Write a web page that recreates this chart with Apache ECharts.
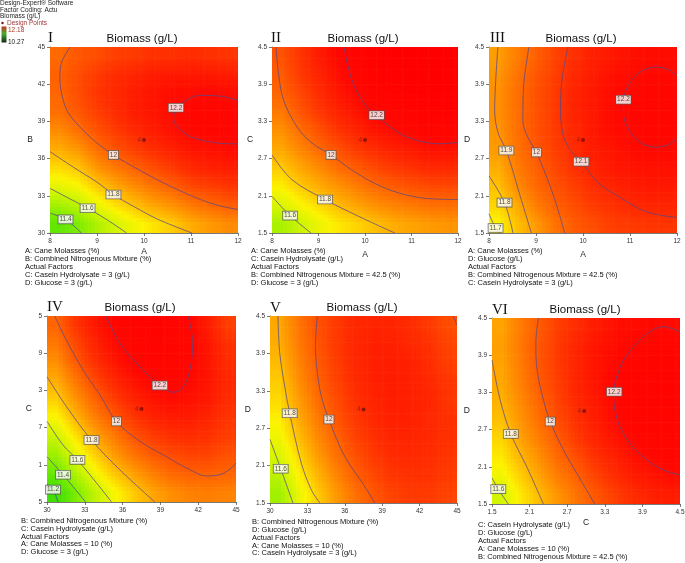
<!DOCTYPE html>
<html><head><meta charset="utf-8">
<script src="https://cdn.jsdelivr.net/npm/echarts@6/dist/echarts.min.js"></script>
<style>html,body{margin:0;padding:0;background:#fff;}#c{width:685px;height:563px;}</style>
</head><body><div id="c"></div>
<script>
// ---------- data ----------
const centersA  = [8.2, 8.6, 9.0, 9.4, 9.8, 10.2, 10.6, 11.0, 11.4, 11.8];
const centersB  = [30.75, 32.25, 33.75, 35.25, 36.75, 38.25, 39.75, 41.25, 42.75, 44.25];
const centersCD = [1.65, 1.95, 2.25, 2.55, 2.85, 3.15, 3.45, 3.75, 4.05, 4.35];

// biomass estimates at cell centres; rows listed from the top of each plot down
const biomassI = [
 [11.98,12.02,12.04,12.07,12.08,12.10,12.10,12.11,12.10,12.09],
 [12.00,12.04,12.08,12.11,12.13,12.15,12.16,12.16,12.16,12.15],
 [11.99,12.04,12.09,12.12,12.15,12.17,12.19,12.19,12.20,12.19],
 [11.97,12.02,12.07,12.11,12.15,12.17,12.19,12.21,12.21,12.21],
 [11.91,11.97,12.03,12.08,12.12,12.15,12.18,12.20,12.21,12.21],
 [11.84,11.89,11.97,12.03,12.07,12.11,12.14,12.17,12.18,12.19],
 [11.75,11.79,11.89,11.95,12.00,12.04,12.08,12.12,12.14,12.15],
 [11.65,11.69,11.78,11.85,11.91,11.96,12.00,12.05,12.07,12.09],
 [11.51,11.56,11.66,11.74,11.80,11.86,11.90,11.95,11.98,12.01],
 [11.36,11.43,11.53,11.61,11.68,11.73,11.78,11.84,11.88,11.91]];
const biomassII = [
 [12.03,12.09,12.15,12.20,12.24,12.27,12.29,12.31,12.32,12.32],
 [12.01,12.08,12.13,12.18,12.23,12.26,12.28,12.30,12.31,12.31],
 [11.99,12.05,12.11,12.16,12.20,12.24,12.26,12.28,12.29,12.29],
 [11.95,12.02,12.08,12.13,12.17,12.21,12.23,12.25,12.26,12.27],
 [11.90,11.97,12.03,12.09,12.13,12.17,12.19,12.21,12.23,12.23],
 [11.85,11.92,11.98,12.03,12.08,12.11,12.14,12.16,12.18,12.18],
 [11.78,11.85,11.91,11.97,12.01,12.05,12.08,12.10,12.12,12.12],
 [11.71,11.78,11.84,11.89,11.94,11.98,12.01,12.03,12.05,12.05],
 [11.62,11.69,11.75,11.81,11.86,11.90,11.93,11.95,11.97,11.97],
 [11.52,11.59,11.66,11.72,11.76,11.80,11.84,11.86,11.88,11.89]];
const biomassIII = [
 [11.87,11.94,12.00,12.06,12.10,12.14,12.16,12.18,12.19,12.19],
 [11.89,11.96,12.02,12.07,12.12,12.15,12.18,12.19,12.20,12.20],
 [11.90,11.97,12.03,12.08,12.13,12.16,12.19,12.20,12.21,12.21],
 [11.90,11.97,12.03,12.08,12.13,12.16,12.19,12.21,12.21,12.21],
 [11.89,11.97,12.03,12.08,12.12,12.16,12.19,12.20,12.21,12.21],
 [11.88,11.96,12.02,12.07,12.11,12.15,12.17,12.19,12.20,12.20],
 [11.84,11.94,12.00,12.05,12.10,12.13,12.16,12.17,12.18,12.18],
 [11.80,11.91,11.98,12.03,12.07,12.11,12.13,12.15,12.16,12.16],
 [11.76,11.85,11.94,12.00,12.04,12.08,12.10,12.12,12.13,12.13],
 [11.70,11.80,11.88,11.96,12.01,12.04,12.07,12.08,12.09,12.09]];
const biomassIV = [
 [11.99,12.09,12.16,12.21,12.24,12.25,12.24,12.21,12.15,12.07],
 [11.95,12.05,12.13,12.19,12.23,12.25,12.24,12.21,12.17,12.10],
 [11.90,12.01,12.10,12.16,12.21,12.23,12.23,12.21,12.17,12.11],
 [11.84,11.95,12.05,12.12,12.17,12.21,12.22,12.20,12.17,12.12],
 [11.77,11.89,11.99,12.07,12.13,12.17,12.19,12.18,12.16,12.11],
 [11.69,11.82,11.93,12.01,12.08,12.13,12.15,12.15,12.13,12.09],
 [11.59,11.73,11.85,11.94,12.02,12.07,12.10,12.11,12.10,12.07],
 [11.49,11.64,11.76,11.87,11.95,12.01,12.04,12.06,12.06,12.03],
 [11.38,11.53,11.67,11.78,11.86,11.93,11.98,12.00,12.00,11.99],
 [11.26,11.42,11.56,11.68,11.77,11.85,11.90,11.93,11.94,11.93]];
const biomassV = [
 [11.85,11.95,12.03,12.08,12.12,12.13,12.13,12.11,12.08,12.04],
 [11.84,11.94,12.02,12.08,12.12,12.14,12.14,12.12,12.10,12.06],
 [11.81,11.92,12.01,12.07,12.12,12.14,12.15,12.14,12.11,12.07],
 [11.78,11.90,11.99,12.06,12.11,12.14,12.15,12.14,12.12,12.09],
 [11.75,11.87,11.97,12.04,12.10,12.13,12.15,12.14,12.13,12.09],
 [11.71,11.84,11.94,12.02,12.08,12.12,12.14,12.14,12.12,12.10],
 [11.67,11.80,11.91,11.99,12.06,12.10,12.13,12.13,12.12,12.10],
 [11.62,11.75,11.87,11.96,12.03,12.08,12.11,12.12,12.11,12.09],
 [11.56,11.70,11.82,11.92,12.00,12.05,12.09,12.10,12.10,12.08],
 [11.50,11.65,11.77,11.88,11.96,12.02,12.06,12.08,12.08,12.06]];
const biomassVI = [
 [11.86,11.94,12.01,12.07,12.11,12.15,12.18,12.19,12.20,12.19],
 [11.87,11.95,12.02,12.08,12.13,12.17,12.19,12.21,12.22,12.22],
 [11.86,11.94,12.02,12.08,12.13,12.17,12.20,12.22,12.24,12.24],
 [11.85,11.93,12.01,12.07,12.13,12.17,12.21,12.23,12.24,12.25],
 [11.83,11.91,11.99,12.06,12.12,12.16,12.20,12.23,12.24,12.25],
 [11.80,11.89,11.97,12.04,12.10,12.15,12.19,12.22,12.24,12.24],
 [11.76,11.86,11.94,12.01,12.08,12.13,12.17,12.20,12.22,12.23],
 [11.72,11.82,11.90,11.98,12.04,12.10,12.14,12.18,12.20,12.21],
 [11.67,11.77,11.86,11.94,12.00,12.06,12.11,12.15,12.17,12.19],
 [11.61,11.72,11.81,11.89,11.96,12.02,12.07,12.11,12.14,12.15]];

// contour lines
const contoursI = [
 {level:'12.2', pts:[[12,40.7],[11.6,41.05],[11.2,41.1],[10.85,40.6],[10.66,39.8],[10.63,39.2],[10.75,38.4],[11.0,37.75],[11.4,37.35],[11.8,37.2],[12,37.2]]},
 {level:'12', pts:[[8.43,45],[8.25,43.8],[8.21,42.6],[8.25,41.2],[8.36,39.9],[8.55,38.9],[8.78,38.0],[9.05,37.1],[9.35,36.3],[9.7,35.5],[10.13,34.6],[10.6,33.7],[11.2,32.7],[11.6,32.2],[12,31.9]]},
 {level:'11.8', pts:[[8,36.56],[8.5,35.3],[9,34.1],[9.35,33.1],[9.8,32.1],[10.3,31.1],[11.02,30]]},
 {level:'11.6', pts:[[8,33.6],[8.4,32.8],[8.8,32.0],[9.2,31.1],[9.63,30]]},
 {level:'11.4', pts:[[8,31.6],[8.33,31.1],[8.67,30]]}];
const labelsI = [[10.68,40.1,'12.2'],[9.35,36.3,'12'],[9.35,33.1,'11.8'],[8.8,32.0,'11.6'],[8.33,31.1,'11.4']];

const contoursII = [
 {level:'12.2', pts:[[9.55,4.5],[9.63,4.2],[9.78,3.85],[10.05,3.52],[10.3,3.36],[10.6,3.18],[10.9,3.05],[11.25,2.97],[11.6,2.94],[12,2.96]]},
 {level:'12', pts:[[8.086,4.5],[8.14,4.07],[8.25,3.64],[8.54,3.21],[8.86,2.95],[9.27,2.76],[9.71,2.52],[10.21,2.30],[10.71,2.15],[11.29,2.06],[12,2.04]]},
 {level:'11.8', pts:[[8,2.76],[8.43,2.36],[9.14,2.04],[9.86,1.77],[10.64,1.5]]},
 {level:'11.6', pts:[[8,2.09],[8.39,1.78],[8.84,1.5]]}];
const labelsII = [[10.25,3.4,'12.2'],[9.27,2.76,'12'],[9.14,2.04,'11.8'],[8.39,1.78,'11.6']];

const contoursIII = [
 {level:'12.2', pts:[[12,4.04],[11.8,4.14],[11.56,4.175],[11.32,4.14],[11.1,4.02],[10.945,3.85],[10.86,3.64],[10.86,3.42],[10.945,3.21],[11.1,3.04],[11.32,2.92],[11.56,2.885],[11.8,2.92],[12,3.02]]},
 {level:'12.1', pts:[[9.68,4.5],[9.56,4.01],[9.52,3.53],[9.57,3.10],[9.72,2.85],[9.96,2.65],[10.35,2.29],[10.78,2.08],[11.2,1.89],[11.56,1.80],[12,1.75]]},
 {level:'12', pts:[[8.85,4.5],[8.74,3.9],[8.72,3.31],[8.83,3.04],[9.01,2.8],[9.36,2.13],[9.61,1.5]]},
 {level:'11.9', pts:[[8.19,4.5],[8.12,3.47],[8.2,3.1],[8.37,2.83],[8.65,2.13],[8.9,1.5]]},
 {level:'11.8', pts:[[8,2.42],[8.33,1.99],[8.51,1.5]]},
 {level:'11.7', pts:[[8,1.81],[8.14,1.58],[8.23,1.5]]}];
const labelsIII = [[10.86,3.65,'12.2'],[9.96,2.65,'12.1'],[9.01,2.8,'12'],[8.37,2.83,'11.9'],[8.33,1.99,'11.8'],[8.14,1.58,'11.7']];

const contoursIV = [
 {level:'12.2', pts:[[34.66,4.5],[35.78,4.06],[37.37,3.68],[38.96,3.38],[40.02,3.27],[40.76,3.34],[41.34,3.63],[41.56,4.06],[41.21,4.5]]},
 {level:'12', pts:[[30.61,4.5],[31.54,4.11],[32.86,3.63],[34.19,3.23],[35.51,2.80],[37.37,2.48],[39.49,2.23],[41.34,2.02],[42.67,1.92],[43.99,1.96],[45,2.12]]},
 {level:'11.8', pts:[[30,3.52],[31.54,3.04],[33.53,2.50],[35.78,2.02],[38.56,1.5]]},
 {level:'11.6', pts:[[30,2.80],[31.27,2.42],[32.41,2.18],[33.92,1.81],[35.12,1.5]]},
 {level:'11.4', pts:[[30,2.23],[31.27,1.94],[33.07,1.5]]},
 {level:'11.2', pts:[[30,1.79],[30.48,1.70],[30.87,1.5]]}];
const labelsIV = [[38.96,3.38,'12.2'],[35.51,2.8,'12'],[33.53,2.5,'11.8'],[32.41,2.18,'11.6'],[31.27,1.94,'11.4'],[30.48,1.70,'11.2']];

const contoursV = [
 {level:'12', pts:[[33.8,4.5],[33.64,4.01],[33.8,3.59],[34.12,3.21],[34.73,2.84],[35.99,2.25],[37.59,1.77],[38.4,1.5]]},
 {level:'11.8', pts:[[30.64,4.5],[30.78,3.91],[31.18,3.37],[31.58,2.94],[32.51,2.14],[33.32,1.71],[34.0,1.5]]},
 {level:'11.6', pts:[[30,2.52],[30.86,2.05],[31.84,1.5]]},
 {level:'12', pts:[[44.68,4.5],[45,4.36]]}];
const labelsV = [[31.58,2.94,'11.8'],[34.73,2.84,'12'],[30.86,2.05,'11.6']];

const contoursVI = [
 {level:'12.2', pts:[[4.5,4.28],[4.23,4.36],[4.02,4.28],[3.81,4.09],[3.60,3.82],[3.49,3.55],[3.44,3.28],[3.46,3.02],[3.54,2.75],[3.70,2.48],[3.97,2.21],[4.23,2.05],[4.5,1.97]]},
 {level:'12', pts:[[2.24,4.5],[2.20,4.09],[2.22,3.66],[2.32,3.18],[2.43,2.83],[2.64,2.37],[2.85,2.0],[3.14,1.5]]},
 {level:'11.8', pts:[[1.5,3.82],[1.63,3.18],[1.80,2.63],[2.05,2.11],[2.32,1.5]]},
 {level:'11.6', pts:[[1.5,1.92],[1.6,1.74],[1.76,1.5]]}];
const labelsVI = [[3.45,3.31,'12.2'],[2.43,2.83,'12'],[1.80,2.63,'11.8'],[1.6,1.74,'11.6']];

const designPointI = [10, 37.5], designPointII = [10, 3.0], designPointIII = [10, 3.0];
const designPointIV = [37.5, 3.0], designPointV = [37.5, 3.0], designPointVI = [2.97, 3.0];

const ticksA  = [8, 9, 10, 11, 12];
const ticksB  = [30, 33, 36, 39, 42, 45];
const ticksCD = [1.5, 2.1, 2.7, 3.3, 3.9, 4.5];
const tickLabelsA  = ['8','9','10','11','12'];
const tickLabelsB  = ['30','33','36','39','42','45'];
const tickLabelsCD = ['1.5','2.1','2.7','3.3','3.9','4.5'];
const tickLabelsIVy = ['5','1','7','3','9','5'];

const notesI   = ['A: Cane Molasses (%)','B: Combined Nitrogenous Mixture (%)','Actual Factors','C: Casein Hydrolysate = 3 (g/L)','D: Glucose = 3 (g/L)'];
const notesII  = ['A: Cane Molasses (%)','C: Casein Hydrolysate (g/L)','Actual Factors','B: Combined Nitrogenous Mixture = 42.5 (%)','D: Glucose = 3 (g/L)'];
const notesIII = ['A: Cane Molasses (%)','D: Glucose (g/L)','Actual Factors','B: Combined Nitrogenous Mixture = 42.5 (%)','C: Casein Hydrolysate = 3 (g/L)'];
const notesIV  = ['B: Combined Nitrogenous Mixture (%)','C: Casein Hydrolysate (g/L)','Actual Factors','A: Cane Molasses = 10 (%)','D: Glucose = 3 (g/L)'];
const notesV   = ['B: Combined Nitrogenous Mixture (%)','D: Glucose (g/L)','Actual Factors','A: Cane Molasses = 10 (%)','C: Casein Hydrolysate = 3 (g/L)'];
const notesVI  = ['C: Casein Hydrolysate (g/L)','D: Glucose (g/L)','Actual Factors','A: Cane Molasses = 10 (%)','B: Combined Nitrogenous Mixture = 42.5 (%)'];

const chartTitle = 'Biomass (g/L)';
const legendLines = ['Design-Expert\u00ae Software','Factor Coding: Actu','Biomass (g/L)'];
const legendHigh = '12.18', legendLow = '10.27';

// ---------- styles / layout ----------
const SANS = '"Liberation Sans", Arial, sans-serif';
const SERIF = '"Liberation Serif", "Times New Roman", serif';
const RAMP_MIN = 11.1, RAMP_MAX = 12.3;
const RAMP = ['#14c814','#2ed80a','#4ae200','#70ea00','#a0f000','#d0f400','#fcf400','#ffc000','#ff9000','#ff6000','#ff3000','#ff0800','#ff0000'];
const SUB = 5; // sub-division of each cell when painting

const panels = [
 {roman:'I',   g:[50,47,188,186],  xc:centersA, yc:centersB,  hw:0.2, hh:0.75, vals:biomassI,   xr:[8,12],  yr:[30,45],   xt:ticksA, xl:tickLabelsA, yt:ticksB,  yl:tickLabelsB,  xname:'A', xgap:14, yname:'B', ygap:17, cont:contoursI,   lab:labelsI,   pt:designPointI,   rx:48,  ry:38,  tx:142, ty:39,  notes:notesI,   nx:25,  ny:[251,259,267,275,283]},
 {roman:'II',  g:[272,47,186,186], xc:centersA, yc:centersCD, hw:0.2, hh:0.15, vals:biomassII,  xr:[8,12],  yr:[1.5,4.5], xt:ticksA, xl:tickLabelsA, yt:ticksCD, yl:tickLabelsCD, xname:'A', xgap:17, yname:'C', ygap:18, cont:contoursII,  lab:labelsII,  pt:designPointII,  rx:271, ry:38,  tx:363, ty:39,  notes:notesII,  nx:251, ny:[251,259,267,275,283]},
 {roman:'III', g:[489,47,188,186], xc:centersA, yc:centersCD, hw:0.2, hh:0.15, vals:biomassIII, xr:[8,12],  yr:[1.5,4.5], xt:ticksA, xl:tickLabelsA, yt:ticksCD, yl:tickLabelsCD, xname:'A', xgap:17, yname:'D', ygap:16, cont:contoursIII, lab:labelsIII, pt:designPointIII, rx:490, ry:38,  tx:581, ty:39,  notes:notesIII, nx:468, ny:[251,259,267,275,283]},
 {roman:'IV',  g:[47,316,189,186], xc:centersB, yc:centersCD, hw:0.75, hh:0.15, vals:biomassIV, xr:[30,45], yr:[1.5,4.5], xt:ticksB, xl:tickLabelsB, yt:ticksCD, yl:tickLabelsIVy, xname:'', xgap:18, yname:'C', ygap:15, cont:contoursIV,  lab:labelsIV,  pt:designPointIV,  rx:47,  ry:307, tx:140, ty:308, notes:notesIV,  nx:21,  ny:[521,529,537,544,552]},
 {roman:'V',   g:[270,316,187,187], xc:centersB, yc:centersCD, hw:0.75, hh:0.15, vals:biomassV, xr:[30,45], yr:[1.5,4.5], xt:ticksB, xl:tickLabelsB, yt:ticksCD, yl:tickLabelsCD, xname:'', xgap:18, yname:'D', ygap:19, cont:contoursV,   lab:labelsV,   pt:designPointV,   rx:270, ry:308, tx:362, ty:308, notes:notesV,   nx:252, ny:[522,530,538,546,553]},
 {roman:'VI',  g:[492,318,188,186], xc:centersCD, yc:centersCD, hw:0.15, hh:0.15, vals:biomassVI, xr:[1.5,4.5], yr:[1.5,4.5], xt:ticksCD, xl:tickLabelsCD, yt:ticksCD, yl:tickLabelsCD, xname:'C', xgap:14, yname:'D', ygap:22, cont:contoursVI, lab:labelsVI, pt:designPointVI, rx:492, ry:310, tx:585, ty:310, notes:notesVI, nx:478, ny:[525,533,541,549,557]}
];

function colorOf(v){
  let t = (v - RAMP_MIN) / (RAMP_MAX - RAMP_MIN);
  t = Math.max(0, Math.min(1, t));
  return echarts.color.lerp(t, RAMP);
}
// smooth painting of a cell: blend the read values of neighbouring cells
function sample(vals, fr, fc){
  const n = vals.length, m = vals[0].length;
  fr = Math.max(0, Math.min(n - 1, fr)); fc = Math.max(0, Math.min(m - 1, fc));
  const r0 = Math.min(n - 2, Math.floor(fr)), c0 = Math.min(m - 2, Math.floor(fc));
  const tr = fr - r0, tc = fc - c0;
  const a = vals[r0][c0] * (1 - tc) + vals[r0][c0 + 1] * tc;
  const b = vals[r0 + 1][c0] * (1 - tc) + vals[r0 + 1][c0 + 1] * tc;
  return a * (1 - tr) + b * tr;
}

const grids = [], xAxes = [], yAxes = [], series = [], graphics = [];
function labelFor(ticks, labels){
  return function(v){ const i = ticks.findIndex(t => Math.abs(t - v) < 1e-6); return i >= 0 ? labels[i] : ''; };
}
panels.forEach((p, i) => {
  grids.push({left:p.g[0], top:p.g[1], width:p.g[2], height:p.g[3], containLabel:false, outerBoundsMode:'none'});
  xAxes.push({
    type:'value', gridIndex:i, min:p.xr[0], max:p.xr[1],
    name:p.xname, nameLocation:'middle', nameGap:p.xgap,
    nameTextStyle:{fontSize:8.5, color:'#222', fontFamily:SANS},
    axisLine:{show:true, onZero:false, lineStyle:{color:'#555', width:0.8}},
    splitLine:{show:false},
    axisTick:{show:true, length:3, customValues:p.xt, lineStyle:{color:'#555', width:0.8}},
    axisLabel:{fontSize:6.5, color:'#333', margin:5, fontFamily:SANS, customValues:p.xt, formatter:labelFor(p.xt, p.xl)}
  });
  yAxes.push({
    type:'value', gridIndex:i, min:p.yr[0], max:p.yr[1],
    name:p.yname, nameLocation:'middle', nameGap:p.ygap, nameRotate:0,
    nameTextStyle:{fontSize:8.5, color:'#222', fontFamily:SANS},
    axisLine:{show:true, onZero:false, lineStyle:{color:'#555', width:0.8}},
    splitLine:{show:false},
    axisTick:{show:true, length:3, customValues:p.yt, lineStyle:{color:'#555', width:0.8}},
    axisLabel:{fontSize:6.5, color:'#333', margin:5, fontFamily:SANS, customValues:p.yt, formatter:labelFor(p.yt, p.yl)}
  });
  // colour cells
  const data = [];
  const nr = p.vals.length;
  p.vals.forEach((row, r) => row.forEach((v, c) => data.push([p.xc[c], p.yc[nr - 1 - r], v, c, r])));
  const hw = p.hw, hh = p.hh, vals = p.vals;
  series.push({
    type:'custom', xAxisIndex:i, yAxisIndex:i, data:data, clip:true, silent:true, z:1,
    encode:{x:0, y:1},
    renderItem:function(params, api){
      const x = api.value(0), y = api.value(1), c = api.value(3), r = api.value(4);
      const children = [];
      for (let sx = 0; sx < SUB; sx++) {
        for (let sy = 0; sy < SUB; sy++) {
          const x0 = x - hw + 2 * hw * sx / SUB, x1 = x - hw + 2 * hw * (sx + 1) / SUB;
          const y0 = y + hh - 2 * hh * sy / SUB, y1 = y + hh - 2 * hh * (sy + 1) / SUB;
          const a = api.coord([x0, y0]), b = api.coord([x1, y1]);
          const fc = c + (sx + 0.5) / SUB - 0.5, fr = r + (sy + 0.5) / SUB - 0.5;
          children.push({type:'rect', shape:{x:a[0], y:a[1], width:b[0]-a[0]+0.6, height:b[1]-a[1]+0.6},
            style:{fill:colorOf(sample(vals, fr, fc))}});
        }
      }
      return {type:'group', children:children};
    }
  });
  // contour lines
  p.cont.forEach(c => {
    series.push({type:'line', xAxisIndex:i, yAxisIndex:i, data:c.pts, smooth:0.35, symbol:'none', silent:true, z:3,
      clip:true, lineStyle:{color:'#54498a', width:0.75}});
  });
  // contour labels
  series.push({type:'scatter', xAxisIndex:i, yAxisIndex:i, data:p.lab, symbol:'rect', symbolSize:1, silent:true, z:5,
    itemStyle:{color:'rgba(0,0,0,0)'},
    label:{show:true, position:'inside', formatter:d => d.data[2], fontSize:6.5, color:'#222', fontFamily:SANS,
      backgroundColor:'#fff', borderColor:'#555', borderWidth:0.8, padding:[1,1,0,1]}});
  // design point
  series.push({type:'scatter', xAxisIndex:i, yAxisIndex:i, data:[p.pt], symbol:'circle', symbolSize:4, silent:true, z:6,
    itemStyle:{color:'#7a0c0c'},
    label:{show:true, position:'left', distance:1, formatter:'4', fontSize:6.5, color:'#7a1a1a', fontFamily:SANS}});
  graphics.push({type:'text', x:p.tx, y:p.ty, style:{text:chartTitle, font:'11.5px ' + SANS, fill:'#111', align:'center', verticalAlign:'middle'}});
  graphics.push({type:'text', x:p.rx, y:p.ry, style:{text:p.roman, font:'15px ' + SERIF, fill:'#111', align:'left', verticalAlign:'middle'}});
  p.notes.forEach((t, k) => {
    graphics.push({type:'text', x:p.nx, y:p.ny[k], style:{text:t, font:'7.5px ' + SANS, fill:'#111', align:'left', verticalAlign:'middle'}});
  });
});

// legend in the top-left corner
legendLines.forEach((t, k) => {
  graphics.push({type:'text', x:0, y:[3,10,16.5][k], style:{text:t, font:'6.5px ' + SANS, fill:'#222', align:'left', verticalAlign:'middle'}});
});
graphics.push({type:'circle', shape:{cx:2.5, cy:23, r:1.2}, style:{fill:'#7a0c0c'}});
graphics.push({type:'text', x:7, y:23, style:{text:'Design Points', font:'6.5px ' + SANS, fill:'#a03a3a', align:'left', verticalAlign:'middle'}});
graphics.push({type:'rect', shape:{x:1.5, y:26.5, width:5, height:16},
  style:{fill:new echarts.graphic.LinearGradient(0,0,0,1,[{offset:0,color:'#c8321e'},{offset:0.45,color:'#48b030'},{offset:1,color:'#102a10'}])}});
graphics.push({type:'text', x:8, y:30, style:{text:legendHigh, font:'6.5px ' + SANS, fill:'#a83a2a', align:'left', verticalAlign:'middle'}});
graphics.push({type:'text', x:8, y:42, style:{text:legendLow, font:'6.5px ' + SANS, fill:'#222', align:'left', verticalAlign:'middle'}});

const chart = echarts.init(document.getElementById('c'), null, {renderer:'canvas'});
chart.setOption({
  animation:false,
  backgroundColor:'#fff',
  grid:grids, xAxis:xAxes, yAxis:yAxes,
  series:series,
  graphic:graphics
});
</script>
</body></html>
